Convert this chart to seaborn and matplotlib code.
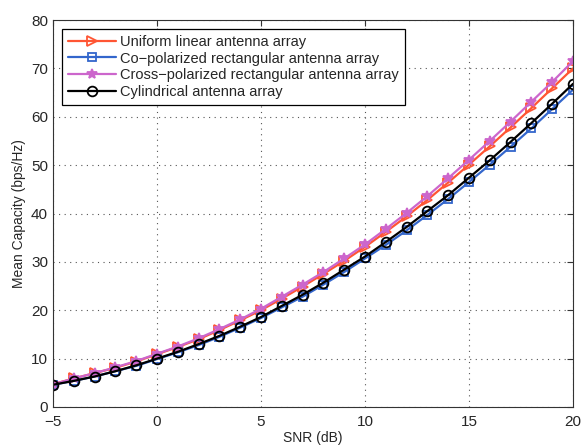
import numpy as np
import pandas as pd
import matplotlib
matplotlib.use("Agg")
import matplotlib.pyplot as plt
import seaborn as sns

snr = list(range(-5, 21))
uniform_linear = [4.7, 5.9, 7.0, 8.1, 9.4, 10.9, 12.4, 14.0, 15.9, 17.9, 20.0, 22.4, 24.9, 27.5,
                  30.2, 33.1, 36.2, 39.4, 42.8, 46.4, 50.1, 53.9, 57.8, 61.8, 65.9, 70.0]
co_polarized = [4.6, 5.4, 6.3, 7.4, 8.5, 9.9, 11.3, 12.8, 14.5, 16.4, 18.4, 20.6, 22.8, 25.3,
                27.9, 30.7, 33.5, 36.5, 39.7, 43.0, 46.5, 50.1, 53.8, 57.6, 61.6, 65.6]
cross_polarized = [4.7, 5.9, 7.0, 8.2, 9.5, 11.0, 12.5, 14.2, 16.1, 18.1, 20.3, 22.8, 25.3, 27.9,
                   30.7, 33.6, 36.8, 40.1, 43.6, 47.3, 51.1, 55.0, 59.0, 63.1, 67.2, 71.5]
cylindrical = [4.6, 5.4, 6.3, 7.4, 8.6, 10.0, 11.4, 13.0, 14.7, 16.6, 18.6, 20.9, 23.2, 25.7,
               28.4, 31.1, 34.1, 37.2, 40.5, 43.8, 47.4, 51.0, 54.8, 58.7, 62.7, 66.8]

labels = ["Uniform linear antenna array",
          "Co\u2212polarized rectangular antenna array",
          "Cross\u2212polarized rectangular antenna array",
          "Cylindrical antenna array"]
series = [uniform_linear, co_polarized, cross_polarized, cylindrical]
colors = ["#ff5533", "#3366cc", "#cc66cc", "#000000"]
markers = [">", "s", "*", "o"]
filled = [False, False, True, False]
msizes = [6.5, 6, 7.5, 7]

sns.set_style("white")
plt.rcParams["font.family"] = ["Liberation Sans", "DejaVu Sans"]
plt.rcParams["xtick.direction"] = "in"
plt.rcParams["ytick.direction"] = "in"

fig = plt.figure(figsize=(5.82, 4.45), dpi=100)
ax = fig.add_axes([0.091, 0.0854, 0.8935, 0.8696])

for lab, vals, c, m, f, ms in zip(labels, series, colors, markers, filled, msizes):
    d = pd.DataFrame({"snr": snr, "cap": vals})
    sns.lineplot(data=d, x="snr", y="cap", ax=ax, color=c, marker=m, label=lab,
                 linewidth=1.6, markersize=ms,
                 markerfacecolor=c if f else "none", markeredgecolor=c,
                 markeredgewidth=1.3)

ax.set_xlim(-5, 20)
ax.set_ylim(0, 80)
ax.set_xticks(range(-5, 21, 5))
ax.set_yticks(range(0, 81, 10))
ax.grid(True, linestyle=(0, (1, 4)), color="#555555", linewidth=0.8)
ax.tick_params(labelsize=11, length=4, top=True, right=True, color="#333333")
ax.tick_params(axis="x", pad=6)
for s in ax.spines.values():
    s.set_color("#333333")
    s.set_linewidth(0.8)
ax.set_xlabel("SNR (dB)", fontsize=10, labelpad=1)
ax.set_ylabel("Mean Capacity (bps/Hz)", fontsize=10, labelpad=4)

leg = ax.legend(loc="upper left", fontsize=10.5, frameon=True, fancybox=False,
                edgecolor="black", framealpha=1, borderpad=0.4, labelspacing=0.2,
                handlelength=3.3, handletextpad=0.3, borderaxespad=0.6)
leg.get_frame().set_linewidth(0.9)

fig.savefig("out.png", dpi=100)
